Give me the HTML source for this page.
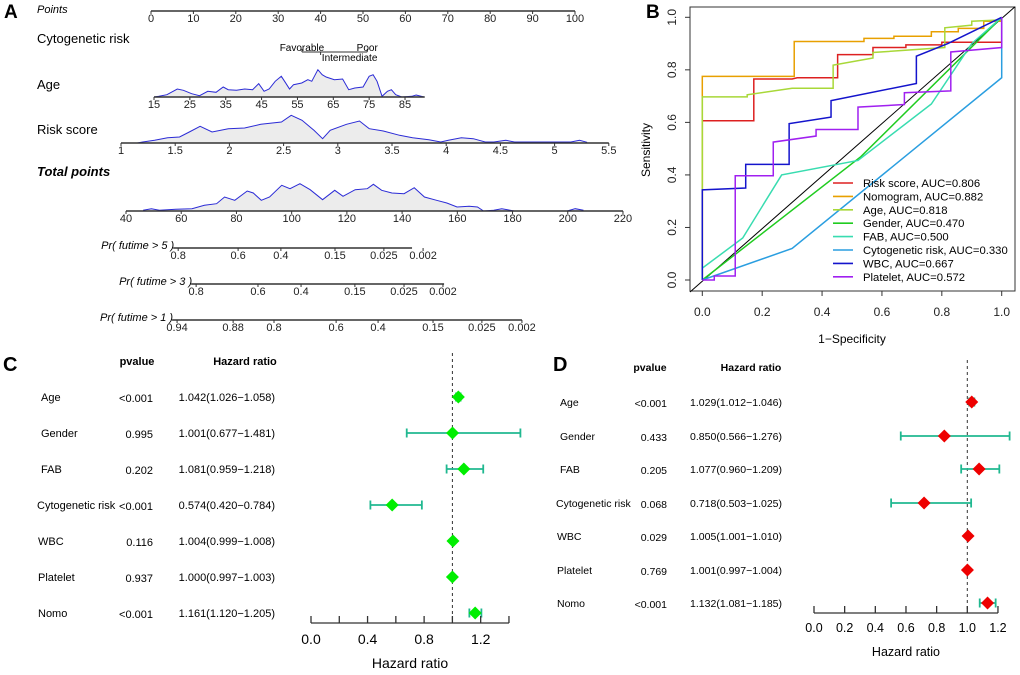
<!DOCTYPE html>
<html><head><meta charset="utf-8"><style>
body{margin:0;background:#fff;}
svg{display:block;font-family:"Liberation Sans",Arial,sans-serif;}
</style></head><body>
<svg id="fig" width="1020" height="675" viewBox="0 0 1020 675" xmlns="http://www.w3.org/2000/svg">
<g id="A"></g>
<g id="B"></g>
<g id="C"></g>
<g id="D"></g>
</svg>
<script>
// ---------- Panel A data ----------
const pointsTicks=[0,10,20,30,40,50,60,70,80,90,100];
const cytoLevels=["Favorable","Intermediate","Poor"];
const cytoPoints=[35.6,40,51];
const ageTicks=[15,25,35,45,55,65,75,85];
const ageDensX=[15,16.4,18.6,21.5,23.2,25.5,27.7,30,32.3,34.3,35.7,38,40.3,42.5,44.2,45.7,47.1,48.8,50.5,51.6,52.8,53.9,56.2,57.9,59,60.7,61.9,63,65.3,67.6,69.3,71,73.3,75,76.1,77.2,78.6,80.1,81.2,82.4,84.1,86.9,88.1,90.3];
const ageDensY=[0,0.7,2.3,8,6.7,3.3,1.3,5.7,4.7,10,7.3,6.7,8,7.3,13.3,5.7,8,15.7,20.7,14.7,8,12.3,14,17.3,15.7,27.3,22.3,20,17.3,18,7.3,9,10,20.7,22.3,15.7,0.7,5.7,7.3,2.3,0,0.7,2,0];
const riskTicks=[1,1.5,2,2.5,3,3.5,4,4.5,5,5.5];
const riskDensX=[1.15,1.2,1.31,1.43,1.54,1.63,1.73,1.84,1.99,2.14,2.29,2.48,2.57,2.67,2.78,2.86,2.93,3.08,3.2,3.29,3.42,3.57,3.69,3.84,3.95,4.02,4.14,4.25,4.36,4.44,4.55,4.63,5.15,5.23,5.3];
const riskDensY=[0,1,2.7,5.3,6,11,16.7,11,14.3,15,18.7,21,27.7,22.7,12.7,4.3,12.7,18.7,22,14.3,12,7.7,5.3,3.3,1,2.7,5.3,4.3,1,1,2.7,1,1,2.7,0.7];
const totalTicks=[40,60,80,100,120,140,160,180,200,220];
const totalDensX=[46.2,49.2,52.1,58,63.9,68.4,72.8,75.7,79.4,83.9,86.1,89,92,96.4,99.4,103,106.7,111.2,115.6,118.6,123,127.4,129.6,132.6,136.3,140.7,144.4,148.1,152.5,156.2,159.9,164.3,167.3,169.5,173.2,176.1,180.6,199.8,202.7,205.7];
const totalDensY=[0.7,2.3,0.7,1.7,2.3,5.7,7.3,14,10.7,20,18,10.7,14,25.7,22.3,27.3,21.3,11.3,20.7,14.7,21.3,22.3,26.7,20.7,18,17.3,23.3,14,10.7,8,4,4.7,4,0,0.7,2.3,0,0,2.3,0.7];
const pr5Labels=["0.8","0.6","0.4","0.15","0.025","0.002"];
const pr5Total=[58.9,80.6,96.1,115.7,133.4,147.6];
const pr3Labels=["0.8","0.6","0.4","0.15","0.025","0.002"];
const pr3Total=[65.4,87.8,103.4,122.9,140.7,154.8];
const pr1Labels=["0.94","0.88","0.8","0.6","0.4","0.15","0.025","0.002"];
const pr1Total=[58.5,78.8,93.6,116.1,131.3,151.2,168.9,183.4];

// ---------- Panel B data ----------
const rocNames=["Risk score","Nomogram","Age","Gender","FAB","Cytogenetic risk","WBC","Platelet"];
const rocAUC=["0.806","0.882","0.818","0.470","0.500","0.330","0.667","0.572"];
const rocColors=["#dd2020","#e8a000","#a8d838","#20cc20","#38dcb0","#2a9ee0","#1414cc","#a020f0"];
const rocFPR=[
 [0,0,0.172,0.172,0.3,0.317,0.452,0.452,0.57,0.57,0.68,0.68,0.8,0.8,1,1],
 [0,0,0.307,0.307,0.54,0.54,0.64,0.64,0.765,0.765,0.855,0.855,0.94,0.94,1,1],
 [0,0,0.15,0.15,0.3,0.437,0.437,0.57,0.57,0.81,0.81,0.9,0.9,1,1],
 [0,0.53,1],
 [0,0,0.135,0.265,0.52,0.765,0.9,1],
 [0,0.3,1,1],
 [0,0,0.145,0.145,0.29,0.29,0.43,0.43,0.715,0.715,0.82,1],
 [0,0.04,0.04,0.11,0.11,0.237,0.237,0.38,0.38,0.52,0.52,0.675,0.675,0.83,0.83,1,1]];
const rocTPR=[
 [0,0.606,0.606,0.765,0.765,0.77,0.77,0.858,0.858,0.885,0.885,0.895,0.895,0.905,0.905,1],
 [0,0.775,0.775,0.908,0.908,0.92,0.92,0.928,0.928,0.945,0.945,0.958,0.958,0.985,0.985,1],
 [0,0.697,0.697,0.705,0.73,0.73,0.818,0.845,0.866,0.885,0.96,0.97,0.985,0.99,1],
 [0,0.47,1],
 [0,0.045,0.16,0.4,0.455,0.67,0.9,1],
 [0,0.12,0.77,1],
 [0,0.343,0.35,0.44,0.44,0.595,0.62,0.683,0.748,0.852,0.9,1],
 [0,0,0.015,0.015,0.397,0.397,0.525,0.548,0.573,0.573,0.658,0.668,0.713,0.72,0.868,0.885,1]];
const rocTicks=[0,0.2,0.4,0.6,0.8,1.0];

// ---------- Panel C / D data ----------
const varNames=["Age","Gender","FAB","Cytogenetic risk","WBC","Platelet","Nomo"];
const cP=["<0.001","0.995","0.202","<0.001","0.116","0.937","<0.001"];
const cHR=[1.042,1.001,1.081,0.574,1.004,1.000,1.161];
const cLo=[1.026,0.677,0.959,0.420,0.999,0.997,1.120];
const cHi=[1.058,1.481,1.218,0.784,1.008,1.003,1.205];
const cTicks=[0,0.2,0.4,0.6,0.8,1.0,1.2,1.4];
const cTickLabels=["0.0","","0.4","","0.8","","1.2",""];
const dP=["<0.001","0.433","0.205","0.068","0.029","0.769","<0.001"];
const dHR=[1.029,0.850,1.077,0.718,1.005,1.001,1.132];
const dLo=[1.012,0.566,0.960,0.503,1.001,0.997,1.081];
const dHi=[1.046,1.276,1.209,1.025,1.010,1.004,1.185];
const dTicks=[0,0.2,0.4,0.6,0.8,1.0,1.2];
const dTickLabels=["0.0","0.2","0.4","0.6","0.8","1.0","1.2"];

const NS="http://www.w3.org/2000/svg";
function mk(parent,tag,attrs,txt){const e=document.createElementNS(NS,tag);for(const k in attrs)e.setAttribute(k,attrs[k]);if(txt!==undefined)e.textContent=txt;parent.appendChild(e);return e;}
const f=v=>v.toFixed(2);

// ================= Panel A =================
const A=document.getElementById('A');
const pX=p=>151+p*4.24, ageX=a=>154+(a-15)*3.586, riskX=r=>121+(r-1)*108.4, totX=t=>126+(t-40)*2.761;
let t=mk(A,'text',{x:4,y:18,'font-size':19,'font-weight':'bold'},'A');

function label(txt,x,y,opt){const e=mk(A,'text',Object.assign({x:x,y:y,'font-size':13},opt||{}),txt);return e;}
function scale(g,y,x0,x1,ticks,labels,xf,fs){
  mk(g,'line',{x1:f(x0),y1:y,x2:f(x1),y2:y,stroke:'#333','stroke-width':1.4});
  ticks.forEach((v,i)=>{const x=xf(v);mk(g,'line',{x1:f(x),y1:y,x2:f(x),y2:y+3,stroke:'#333','stroke-width':1});
    mk(g,'text',{x:f(x),y:y+11,'font-size':fs||11,'text-anchor':'middle',fill:'#222'},labels[i]);});
}
function dens(g,xs,ys,xf,y){
  let d='M'+f(xf(xs[0]))+','+y;xs.forEach((v,i)=>{d+=' L'+f(xf(v))+','+f(y-ys[i]);});
  d+=' L'+f(xf(xs[xs.length-1]))+','+y+' Z';
  mk(g,'path',{d:d,fill:'#ececec',stroke:'none'});
  let l='';xs.forEach((v,i)=>{l+=(i?' L':'M')+f(xf(v))+','+f(y-ys[i]);});
  mk(g,'path',{d:l,fill:'none',stroke:'#2b2bd6','stroke-width':1});
}
let g=mk(A,'g',{});
label('Points',37,13,{'font-style':'italic','font-size':11});
scale(g,11,pX(0),pX(100),pointsTicks,pointsTicks.map(String),pX,11);
g=mk(A,'g',{});
label('Cytogenetic risk',37,43);
mk(g,'line',{x1:f(pX(cytoPoints[0])),y1:52,x2:f(pX(cytoPoints[2])),y2:52,stroke:'#333'});
cytoPoints.forEach((p,i)=>{mk(g,'line',{x1:f(pX(p)),y1:52,x2:f(pX(p)),y2:i==1?55:49,stroke:'#333'});});
mk(g,'text',{x:f(pX(cytoPoints[0])),y:51,'font-size':10,'text-anchor':'middle'},cytoLevels[0]);
mk(g,'text',{x:f(pX(cytoPoints[1])+29),y:61,'font-size':10,'text-anchor':'middle'},cytoLevels[1]);
mk(g,'text',{x:f(pX(cytoPoints[2])),y:51,'font-size':10,'text-anchor':'middle'},cytoLevels[2]);
g=mk(A,'g',{});
label('Age',37,89);
dens(g,ageDensX,ageDensY,ageX,97);
scale(g,97,ageX(15),ageX(90.5),ageTicks,ageTicks.map(String),ageX,11);
g=mk(A,'g',{});
label('Risk score',37,134);
dens(g,riskDensX,riskDensY,riskX,143);
scale(g,143,riskX(1),riskX(5.5),riskTicks,riskTicks.map(String),riskX,11);
g=mk(A,'g',{});
label('Total points',37,176,{'font-weight':'bold','font-style':'italic'});
dens(g,totalDensX,totalDensY,totX,211);
scale(g,211,totX(40),totX(220),totalTicks,totalTicks.map(String),totX,11);
function prAxis(name,txt,y,lbls,tots,lineEnd){
  const gg=mk(A,'g',{});
  const x0=totX(tots[0])-5;
  mk(gg,'text',{x:f(x0+1),y:y+1,'font-size':11,'font-style':'italic','text-anchor':'end'},txt);
  scale(gg,y,x0,totX(lineEnd),tots,lbls,totX,11);
}
prAxis('pr-5-year-axis','Pr( futime > 5 )',248,pr5Labels,pr5Total,143.6);
prAxis('pr-3-year-axis','Pr( futime > 3 )',284,pr3Labels,pr3Total,155.2);
prAxis('pr-1-year-axis','Pr( futime > 1 )',320,pr1Labels,pr1Total,183.4);

// ================= Panel B =================
const B=document.getElementById('B');
const bx=v=>702.3+v*299.4, by=v=>280-v*262.7;
t=mk(B,'text',{x:646,y:18,'font-size':19,'font-weight':'bold'},'B');

const frame=mk(B,'rect',{x:690,y:7,width:325,height:284,fill:'none',stroke:'#333','stroke-width':1});

rocTicks.forEach(v=>{
  mk(B,'line',{x1:f(bx(v)),y1:291,x2:f(bx(v)),y2:296,stroke:'#333'});
  mk(B,'text',{x:f(bx(v)),y:316,'font-size':12,'text-anchor':'middle',fill:'#222'},v.toFixed(1));
  mk(B,'line',{x1:690,y1:f(by(v)),x2:685,y2:f(by(v)),stroke:'#333'});
  mk(B,'text',{x:676,y:f(by(v)),'font-size':12,'text-anchor':'middle',fill:'#222',transform:'rotate(-90 676 '+f(by(v))+')'},v.toFixed(1));
});
t=mk(B,'text',{x:f(bx(0.5)),y:343,'font-size':12,'text-anchor':'middle'},'1−Specificity');

t=mk(B,'text',{x:650,y:150,'font-size':12,'text-anchor':'middle',transform:'rotate(-90 650 150)'},'Sensitivity');

mk(B,'line',{x1:690,y1:f(by(-0.0457)),x2:1015,y2:f(by(1.04)),stroke:'#000','stroke-width':1});
rocNames.forEach((n,i)=>{
  let d='';rocFPR[i].forEach((x,j)=>{d+=(j?' L':'M')+f(bx(x))+','+f(by(rocTPR[i][j]));});
  const p=mk(B,'path',{d:d,fill:'none',stroke:rocColors[i],'stroke-width':1.5});
  
  
});
rocNames.forEach((n,i)=>{
  const y=183+i*13.4;
  const lg=mk(B,'g',{});
  
  
  mk(lg,'line',{x1:833,y1:f(y),x2:853,y2:f(y),stroke:rocColors[i],'stroke-width':1.6});
  mk(lg,'text',{x:863,y:f(y+4),'font-size':11.3},n+', AUC='+rocAUC[i]);
});

// ================= Panels C/D =================
function forest(G,letter,lx,ly,rows,headY,nameX,pRight,hrRight,pHead,hrHead,fs,sx,axisY,ticks,tlab,dashTop,HR,LO,HI,P,mark,titleY,tickLY,tfs){
  let t=mk(G,'text',{x:lx,y:ly,'font-size':20,'font-weight':'bold'},letter);
  
  mk(G,'text',{x:pHead,y:headY,'font-size':fs,'font-weight':'bold','text-anchor':'middle'},'pvalue');
  mk(G,'text',{x:hrHead,y:headY,'font-size':fs,'font-weight':'bold','text-anchor':'middle'},'Hazard ratio');
  mk(G,'line',{x1:f(sx(1)),y1:dashTop,x2:f(sx(1)),y2:axisY,stroke:'#333','stroke-dasharray':'3,3'});
  varNames.forEach((n,i)=>{
    const y=rows[i];
    const rg=mk(G,'g',{});
    
    
    const nx=(n=='Cytogenetic risk')?nameX-4:(n=='WBC'||n=='Platelet'||n=='Nomo')?nameX-3:nameX;
    mk(rg,'text',{x:nx,y:y+4,'font-size':fs},n);
    mk(rg,'text',{x:pRight,y:y+5,'font-size':fs,'text-anchor':'end'},P[i]);
    mk(rg,'text',{x:hrRight,y:y+4,'font-size':fs,'text-anchor':'end'},HR[i].toFixed(3)+'('+LO[i].toFixed(3)+'−'+HI[i].toFixed(3)+')');
    mk(rg,'line',{x1:f(sx(LO[i])),y1:y,x2:f(sx(HI[i])),y2:y,stroke:'#20b890','stroke-width':1.8});
    [LO[i],HI[i]].forEach(v=>mk(rg,'line',{x1:f(sx(v)),y1:y-4.5,x2:f(sx(v)),y2:y+4.5,stroke:'#20b890','stroke-width':1.8}));
    const cx=sx(HR[i]),h=6.5;
    mk(rg,'path',{d:'M'+f(cx-h)+','+y+' L'+f(cx)+','+(y-h)+' L'+f(cx+h)+','+y+' L'+f(cx)+','+(y+h)+' Z',fill:mark});
  });
  const ax=mk(G,'g',{});
  mk(ax,'line',{x1:f(sx(ticks[0])),y1:axisY,x2:f(sx(ticks[ticks.length-1])),y2:axisY,stroke:'#333','stroke-width':1.3});
  ticks.forEach((v,i)=>{mk(ax,'line',{x1:f(sx(v)),y1:axisY,x2:f(sx(v)),y2:axisY-7,stroke:'#333','stroke-width':1.3});
    if(tlab[i])mk(ax,'text',{x:f(sx(v)),y:tickLY,'font-size':tfs,'text-anchor':'middle'},tlab[i]);});
  t=mk(G,'text',{x:f(sx((ticks[0]+ticks[ticks.length-1])/2)),y:titleY,'font-size':tfs,'text-anchor':'middle'},'Hazard ratio');
  
}
forest(document.getElementById('C'),'C',3,371,[397,433,469,505,541,577,613],365,41,153,275,137,245,11,
  v=>311+v*141.4,623,cTicks,cTickLabels,353,cHR,cLo,cHi,cP,'#00ee00',668,644,14);
forest(document.getElementById('D'),'D',553,371,[402,436,469,503,536,570,603],371,560,667,782,650,751,10.5,
  v=>814+v*153.3,613,dTicks,dTickLabels,360,dHR,dLo,dHi,dP,'#ee0000',656,632,12.5);
</script>
</body></html>
